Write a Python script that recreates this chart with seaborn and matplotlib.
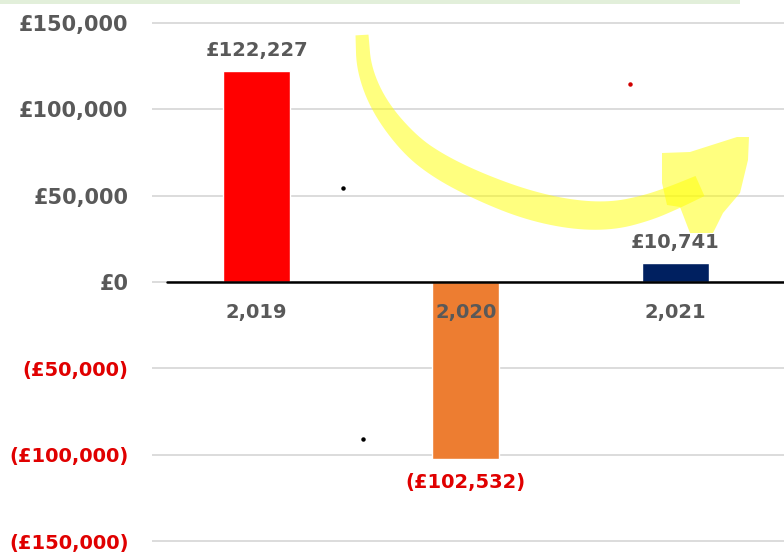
import numpy as np
import pandas as pd
import matplotlib
matplotlib.use('Agg')
import matplotlib.pyplot as plt
import seaborn as sns
from matplotlib.patches import Polygon, Rectangle
from matplotlib.lines import Line2D

# Data
years = ['2,019', '2,020', '2,021']
values = [122227, -102532, 10741]
bar_colors = ['#FF0000', '#ED7D31', '#002060']
y_ticks = [-150000, -100000, -50000, 0, 50000, 100000, 150000]

W, H = 784, 553
grey = '#595959'
neg_red = '#E00000'


def money(v):
    s = '£{:,.0f}'.format(abs(v))
    return '({})'.format(s) if v < 0 else s


def fx(x):
    return x / W


def fy(y):
    return 1 - y / H


def chaikin(a, n=3):
    # corner cutting to smooth the hand drawn stroke
    for _ in range(n):
        q = 0.75 * a[:-1] + 0.25 * a[1:]
        r = 0.25 * a[:-1] + 0.75 * a[1:]
        a = np.vstack([a[:1], np.column_stack([q, r]).reshape(-1, a.shape[1]), a[-1:]])
    return a


sns.set_style('white')
plt.rcParams['font.family'] = ['DejaVu Sans']
plt.rcParams['font.weight'] = 'bold'

fig = plt.figure(figsize=(W / 100, H / 100), dpi=100)
ax_h = 518 * 306 / 300
ax = fig.add_axes([fx(152), fy(282 + ax_h / 2), 632 / W, ax_h / H])

df = pd.DataFrame({'year': years, 'value': values})
sns.barplot(data=df, x='year', y='value', hue='year', palette=bar_colors,
            width=0.32, saturation=1, legend=False, ax=ax, zorder=2)

ax.set_xlim(-0.5, 2.52)
ax.set_ylim(-153000, 153000)
ax.set_xlabel('')
ax.set_ylabel('')
ax.set_xticks([])
for s in ax.spines.values():
    s.set_visible(False)

ax.set_yticks(y_ticks)
ax.set_yticklabels([money(v) for v in y_ticks], fontweight='bold')
for lab, v in zip(ax.get_yticklabels(), y_ticks):
    lab.set_color(neg_red if v < 0 else grey)
    lab.set_fontsize(14 if v < 0 else 15)
ax.tick_params(axis='y', length=0, pad=17)
ax.yaxis.grid(True, color='#D9D9D9', lw=1.3, zorder=0)
ax.set_axisbelow(True)

ax.axhline(0, xmin=15 / 632, color='black', lw=1.8, zorder=3)

# category labels sit next to the zero line
for i, yr in enumerate(years):
    ax.annotate(yr, (i, 0), xytext=(0, -22), textcoords='offset points',
                ha='center', va='center', fontsize=14, fontweight='bold',
                color=grey, zorder=5)

# data labels
for i, v in enumerate(values):
    off = 15 if v >= 0 else -17
    ax.annotate(money(v), (i, v), xytext=(0, off), textcoords='offset points',
                ha='center', va='center', fontsize=14, fontweight='bold',
                color=grey if v >= 0 else neg_red, zorder=5)

# faint green strip at the top
fig.patches.append(Rectangle((0, fy(4)), fx(740), 4 / H, transform=fig.transFigure,
                             facecolor='#E2EFDA', edgecolor='none'))

# yellow highlighter arrow
pts = np.array([(362, 35), (364, 70), (380, 108), (410, 145), (440, 167), (480, 187),
                (527, 205), (573, 215), (613, 216), (647, 208), (673, 198), (700, 186)], float)
widths = np.array([13, 15, 18, 22, 25, 27, 29, 29, 28, 26, 24, 22], float)
sm = chaikin(np.column_stack([pts, widths]))
pts, widths = sm[:, :2], sm[:, 2]
d = np.gradient(pts, axis=0)
n = np.stack([-d[:, 1], d[:, 0]], axis=1)
n /= np.linalg.norm(n, axis=1, keepdims=True)
left = pts + n * widths[:, None] / 2
right = pts - n * widths[:, None] / 2
stroke = np.vstack([left, right[::-1]])
head = np.array([(662, 153), (690, 152), (737, 137), (749, 137), (748, 160), (740, 193),
                 (723, 213), (713, 233), (690, 233), (680, 207), (667, 205), (662, 183)], float)
for poly in (stroke, head):
    xy = np.column_stack([poly[:, 0] / W, 1 - poly[:, 1] / H])
    fig.patches.append(Polygon(xy, closed=True, transform=fig.transFigure,
                               facecolor='#FFFF00', edgecolor='none', alpha=0.5, zorder=6))

# stray specks from the original screenshot
for (px, py, c) in [(343, 188, 'black'), (363, 439, 'black'), (630, 84, '#D00000')]:
    fig.lines.append(Line2D([fx(px)], [fy(py)], transform=fig.transFigure,
                            marker='o', markersize=2.2, color=c, lw=0))

fig.savefig('out.png', dpi=100)
